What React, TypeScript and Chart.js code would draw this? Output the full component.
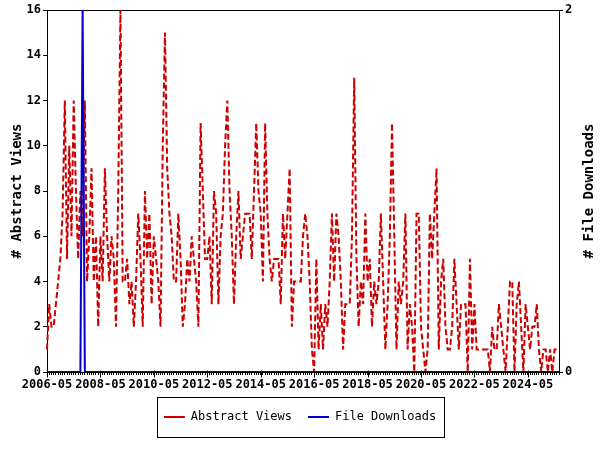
import React, { useEffect, useRef } from 'react';
import { Chart, registerables } from 'chart.js';

Chart.register(...registerables);

const START_YEAR = 2006;
const START_MONTH = 5;

const abstractViews: number[] = [
  1, 3, 2, 2, 3, 4, 5, 7, 12, 5, 10, 6,
  12, 8, 5, 8, 6, 12, 4, 6, 9, 4, 6, 2,
  6, 4, 9, 6, 4, 6, 5, 2, 8, 16, 4, 4,
  5, 3, 4, 2, 4, 7, 5, 2, 8, 5, 7, 3,
  6, 5, 4, 2, 10, 15, 9, 7, 6, 4, 4, 7,
  5, 2, 3, 5, 4, 6, 5, 4, 2, 11, 8, 5,
  5, 6, 3, 8, 7, 3, 6, 7, 10, 12, 8, 6,
  3, 6, 8, 5, 6, 7, 7, 7, 5, 8, 11, 8,
  7, 4, 11, 7, 5, 4, 5, 5, 5, 3, 7, 5,
  7, 9, 2, 4, 4, 4, 4, 6, 7, 6, 4, 1,
  0, 5, 1, 3, 1, 3, 2, 4, 7, 4, 7, 6,
  4, 1, 3, 3, 3, 6, 13, 5, 2, 4, 3, 7,
  4, 5, 2, 4, 3, 4, 7, 4, 1, 3, 6, 11,
  6, 1, 4, 3, 4, 7, 1, 3, 2, 0, 7, 7,
  2, 1, 0, 1, 7, 5, 7, 9, 1, 4, 5, 2,
  1, 1, 2, 5, 3, 1, 3, 3, 3, 0, 5, 1,
  3, 1, 1, 1, 1, 1, 1, 0, 2, 1, 1, 3,
  2, 1, 0, 2, 4, 4, 0, 3, 4, 2, 0, 3,
  2, 1, 2, 2, 3, 1, 0, 1, 1, 0, 1, 0,
  1, 1, 1,
];

const fileDownloads: number[] = [
  0, 0, 0, 0, 0, 0, 0, 0, 0, 0, 0, 0,
  0, 0, 0, 0, 2, 0, 0, 0, 0, 0, 0, 0,
  0, 0, 0, 0, 0, 0, 0, 0, 0, 0, 0, 0,
  0, 0, 0, 0, 0, 0, 0, 0, 0, 0, 0, 0,
  0, 0, 0, 0, 0, 0, 0, 0, 0, 0, 0, 0,
  0, 0, 0, 0, 0, 0, 0, 0, 0, 0, 0, 0,
  0, 0, 0, 0, 0, 0, 0, 0, 0, 0, 0, 0,
  0, 0, 0, 0, 0, 0, 0, 0, 0, 0, 0, 0,
  0, 0, 0, 0, 0, 0, 0, 0, 0, 0, 0, 0,
  0, 0, 0, 0, 0, 0, 0, 0, 0, 0, 0, 0,
  0, 0, 0, 0, 0, 0, 0, 0, 0, 0, 0, 0,
  0, 0, 0, 0, 0, 0, 0, 0, 0, 0, 0, 0,
  0, 0, 0, 0, 0, 0, 0, 0, 0, 0, 0, 0,
  0, 0, 0, 0, 0, 0, 0, 0, 0, 0, 0, 0,
  0, 0, 0, 0, 0, 0, 0, 0, 0, 0, 0, 0,
  0, 0, 0, 0, 0, 0, 0, 0, 0, 0, 0, 0,
  0, 0, 0, 0, 0, 0, 0, 0, 0, 0, 0, 0,
  0, 0, 0, 0, 0, 0, 0, 0, 0, 0, 0, 0,
  0, 0, 0, 0, 0, 0, 0, 0, 0, 0, 0, 0,
  0, 0, 0,
];

const xTickLabels = [
  '2006-05', '2008-05', '2010-05', '2012-05', '2014-05',
  '2016-05', '2018-05', '2020-05', '2022-05', '2024-05',
];
const leftTicks = [0, 2, 4, 6, 8, 10, 12, 14, 16];
const rightTicks = [0, 2];

const SERIES_VIEWS = 'Abstract Views';
const SERIES_DOWNLOADS = 'File Downloads';
const LEFT_TITLE = '# Abstract Views';
const RIGHT_TITLE = '# File Downloads';

const months: string[] = abstractViews.map((_, i) => {
  const t = START_MONTH - 1 + i;
  const y = START_YEAR + Math.floor(t / 12);
  const m = (t % 12) + 1;
  return `${y}-${String(m).padStart(2, '0')}`;
});

const RED = '#cc0000';
const BLUE = '#0000cc';
const MONO = '"DejaVu Sans Mono", monospace';

const decorPlugin = {
  id: 'decor',
  beforeDatasetsDraw(chart: any) {
    const { ctx, chartArea: a } = chart;
    ctx.save();
    ctx.strokeStyle = '#000';
    ctx.lineWidth = 1;
    const l = Math.round(a.left) + 0.5;
    const t = Math.round(a.top) + 0.5;
    const r = Math.round(a.right) + 0.5;
    const b = Math.round(a.bottom) + 0.5;
    ctx.strokeRect(l, t, r - l, b - t);
    const xs = chart.scales.x;
    months.forEach((lab, i) => {
      if (xTickLabels.includes(lab)) {
        const px = Math.round(xs.getPixelForValue(i)) + 0.5;
        ctx.beginPath();
        ctx.moveTo(px, b - 2);
        ctx.lineTo(px, b + 5);
        ctx.stroke();
      }
    });
    ctx.restore();
  },
  afterDraw(chart: any) {
    const { ctx, chartArea: a } = chart;
    ctx.save();
    ctx.fillStyle = '#000';
    ctx.font = `bold 14px ${MONO}`;
    ctx.textAlign = 'center';
    ctx.textBaseline = 'middle';
    const cy = (a.top + a.bottom) / 2;
    ctx.save();
    ctx.translate(17, cy);
    ctx.rotate(-Math.PI / 2);
    ctx.fillText(LEFT_TITLE, 0, 0);
    ctx.restore();
    ctx.save();
    ctx.translate(589, cy);
    ctx.rotate(-Math.PI / 2);
    ctx.fillText(RIGHT_TITLE, 0, 0);
    ctx.restore();

    const hb = chart.legend && chart.legend.legendHitBoxes;
    if (hb && hb.length) {
      const left = Math.min(...hb.map((h: any) => h.left)) - 7;
      const right = Math.max(...hb.map((h: any) => h.left + h.width)) + 8;
      const top = hb[0].top - 14;
      const bottom = hb[0].top + hb[0].height + 14;
      ctx.strokeStyle = '#000';
      ctx.lineWidth = 1;
      ctx.strokeRect(Math.round(left) + 0.5, Math.round(top) + 0.5, Math.round(right - left), Math.round(bottom - top));
    }
    ctx.restore();
  },
};

export default function App() {
  const ref = useRef<HTMLCanvasElement | null>(null);

  useEffect(() => {
    if (!ref.current) return;
    const chart = new Chart(ref.current, {
      type: 'line',
      data: {
        labels: months,
        datasets: [
          {
            label: SERIES_DOWNLOADS,
            data: fileDownloads,
            yAxisID: 'y1',
            borderColor: BLUE,
            backgroundColor: BLUE,
            borderWidth: 2,
            pointRadius: 0,
            tension: 0,
            fill: false,
            order: 0,
          },
          {
            label: SERIES_VIEWS,
            data: abstractViews,
            yAxisID: 'y',
            borderColor: RED,
            backgroundColor: RED,
            borderWidth: 2,
            borderDash: [6, 3],
            pointRadius: 0,
            tension: 0,
            fill: false,
            order: 1,
          },
        ],
      },
      options: {
        responsive: false,
        animation: false,
        devicePixelRatio: 1,
        layout: { padding: { top: 10, bottom: 17, left: 0, right: 0 } },
        plugins: {
          tooltip: { enabled: false },
          title: { display: false },
          legend: {
            display: true,
            position: 'bottom',
            reverse: true,
            labels: {
              usePointStyle: true,
              pointStyle: 'line',
              pointStyleWidth: 21,
              color: '#000',
              padding: 16,
              font: { family: MONO, size: 12 },
            },
          },
        },
        scales: {
          x: {
            type: 'category',
            offset: false,
            border: { display: false },
            grid: {
              display: true,
              drawOnChartArea: false,
              drawTicks: true,
              tickLength: 3,
              color: '#000',
              offset: false,
            },
            ticks: {
              autoSkip: false,
              maxRotation: 0,
              minRotation: 0,
              padding: 3,
              color: '#000',
              font: { family: MONO, size: 12, weight: 'bold' },
              callback: (_v: any, i: number) => (xTickLabels.includes(months[i]) ? months[i] : ''),
            },
            afterFit: (s: any) => { s.height = 23; },
          },
          y: {
            position: 'left',
            min: 0,
            max: 16,
            border: { display: false },
            grid: { drawOnChartArea: false, tickLength: 4, color: '#000' },
            ticks: {
              padding: 2,
              color: '#000',
              font: { family: MONO, size: 12, weight: 'bold' },
            },
            afterBuildTicks: (s: any) => { s.ticks = leftTicks.map((v) => ({ value: v })); },
            afterFit: (s: any) => { s.width = 47; },
          },
          y1: {
            position: 'right',
            min: 0,
            max: 2,
            border: { display: false },
            grid: { drawOnChartArea: false, tickLength: 4, color: '#000' },
            ticks: {
              padding: 2,
              color: '#000',
              font: { family: MONO, size: 12, weight: 'bold' },
            },
            afterBuildTicks: (s: any) => { s.ticks = rightTicks.map((v) => ({ value: v })); },
            afterFit: (s: any) => { s.width = 41; },
          },
        },
      },
      plugins: [decorPlugin],
    } as any);
    return () => chart.destroy();
  }, []);

  return (
    <div style={{ position: 'absolute', left: 0, top: 0, width: 600, height: 450, background: '#fff' }}>
      <canvas ref={ref} width={600} height={450} style={{ width: 600, height: 450 }} />
    </div>
  );
}
